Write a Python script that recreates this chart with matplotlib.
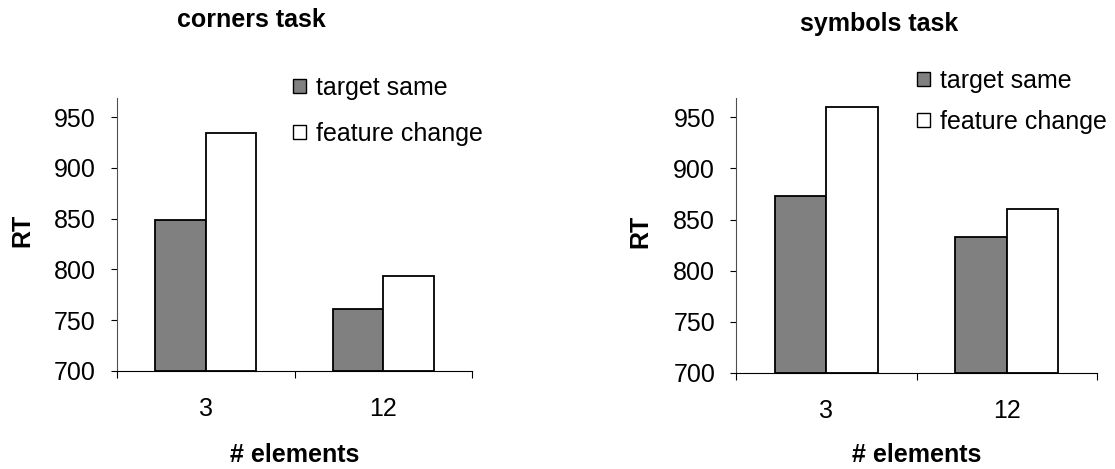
import matplotlib.pyplot as plt
from matplotlib.patches import Patch

plt.rcParams['font.family'] = ['Liberation Sans', 'DejaVu Sans']

# data
categories = ['3', '12']
corners_same = [849, 761]
corners_change = [934, 793]
symbols_same = [873, 833]
symbols_change = [960, 860]
yticks = [700, 750, 800, 850, 900, 950]

FS = 18
W = 1115
H = 469


def draw_panel(ax, same, change, label_y):
    pos = [0.5, 1.5]
    w = 0.285
    ax.bar([p - w / 2 for p in pos], [v - 700 for v in same], w, bottom=700,
           color='#808080', edgecolor='black', linewidth=1.3)
    ax.bar([p + w / 2 for p in pos], [v - 700 for v in change], w, bottom=700,
           color='white', edgecolor='black', linewidth=1.3)
    ax.set_xlim(0, 2)
    ax.set_ylim(700, 969)
    ax.set_yticks(yticks)
    ax.set_xticks([0, 1, 2])
    ax.set_xticklabels([])
    ax.set_xticks(pos, minor=True)
    ax.set_xticklabels(categories, minor=True)
    ax.tick_params(axis='x', which='minor', length=0, pad=19, labelsize=FS)
    ax.tick_params(axis='x', which='major', length=5, direction='out')
    ax.tick_params(axis='y', labelsize=FS, length=4.5, pad=10.5, direction='out')
    for s in ['top', 'right']:
        ax.spines[s].set_visible(False)
    ax.spines['left'].set_color('#505050')
    ax.set_ylabel('RT', fontweight='bold', fontsize=FS)
    ax.set_xlabel('# elements', fontweight='bold', fontsize=FS)
    ax.yaxis.set_label_coords(-0.232, 0.513)
    ax.xaxis.set_label_coords(0.5, label_y)


fig = plt.figure(figsize=(W / 100, H / 100), dpi=100)
ax1 = fig.add_axes([116.7 / W, 1 - 370.7 / H, 355.6 / W, 272.7 / H])
ax2 = fig.add_axes([736 / W, 1 - 372.7 / H, 361 / W, 274.7 / H])

draw_panel(ax1, corners_same, corners_change, -0.266)
draw_panel(ax2, symbols_same, symbols_change, -0.257)

fig.text(251.7 / W, 1 - 27 / H, 'corners task', ha='center', va='baseline',
         fontweight='bold', fontsize=FS)
fig.text(879 / W, 1 - 31 / H, 'symbols task', ha='center', va='baseline',
         fontweight='bold', fontsize=FS)

handles = [Patch(facecolor='#808080', edgecolor='black', label='target same'),
           Patch(facecolor='white', edgecolor='black', label='feature change')]
for x, y, sp in [(293 / W, 1 - 76 / H, 0.88), (917 / W, 1 - 69 / H, 0.66)]:
    fig.legend(handles=handles, loc='upper left', bbox_to_anchor=(x, y),
               frameon=False, fontsize=FS, handlelength=0.5, handleheight=0.5,
               handletextpad=0.4, labelspacing=sp, borderaxespad=0,
               borderpad=0)

plt.savefig('out.png', dpi=100)
